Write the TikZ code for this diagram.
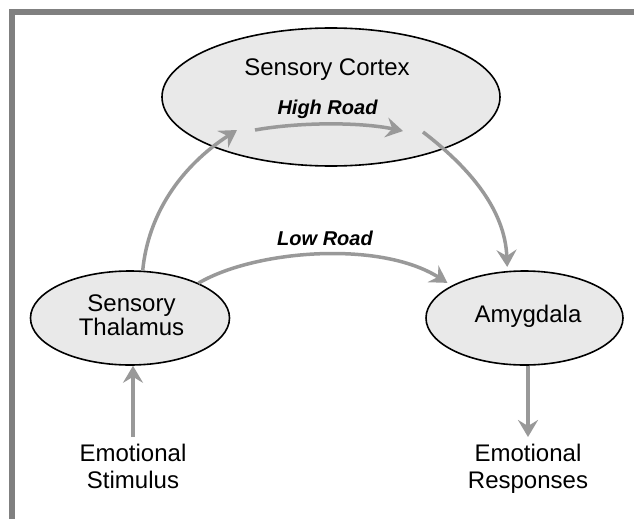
\documentclass[tikz,border=0pt]{standalone}
\usepackage{fontspec}
\setmainfont{Liberation Sans}
\usetikzlibrary{shapes.geometric,arrows.meta,calc}
\definecolor{framegray}{HTML}{808080}
\definecolor{linkgray}{HTML}{999999}
\definecolor{bubble}{HTML}{E9E9E9}
\begin{document}
\begin{tikzpicture}[x=1pt,y=-1pt,
  region/.style={ellipse, draw=black, line width=1.6pt, fill=bubble, inner sep=0pt},
  caption/.style={inner sep=0pt, font=\fontsize{24}{27}\selectfont, align=center},
  roadlabel/.style={inner sep=0pt, font=\fontsize{20}{24}\selectfont\bfseries\itshape},
  link/.style={draw=linkgray, line width=3.5pt, -{Stealth[length=17pt,width=20pt,inset=6pt]}},
]
% page and frame
\fill[white] (0,0) rectangle (634,519);
\useasboundingbox (0,0) rectangle (634,519);
\draw[framegray, line width=6pt, line join=miter] (634,12) -- (12,12) -- (12,519);

% brain regions
\node[region, minimum width=338pt, minimum height=138pt] (cortex) at (331,97) {};
\node[region, minimum width=199pt, minimum height=94pt] (thal) at (130,318) {};
\node[region, minimum width=197pt, minimum height=94pt] (amyg) at (524.5,318) {};

% texts
\node[caption, anchor=base] (cortextext) at (327,75) {Sensory Cortex};
\node[caption, anchor=north, font=\fontsize{24}{24.5}\selectfont] (thaltext) at (131.5,294.5) {Sensory\\Thalamus};
\node[caption, anchor=base] (amygtext) at (528,322.7) {Amygdala};
\node[caption, anchor=north] (stim) at (133,443.5) {Emotional\\Stimulus};
\node[caption, anchor=north] (resp) at (528,443.5) {Emotional\\Responses};
\node[roadlabel, anchor=base] (high) at (327.5,114) {High Road};
\node[roadlabel, anchor=base] (low) at (325,245) {Low Road};

% free ends of the high road inside the cortex
\coordinate (hrin) at (237,130);
\coordinate (hrstart) at (255,130);
\coordinate (hrend) at (403,131);
\coordinate (hrout) at (423,132);

% pathways
\draw[link] (thal.75) .. controls (148,215) and (180,167) .. (hrin);
\draw[link] (hrstart) .. controls (300,122) and (360,122) .. (hrend);
\draw[link, shorten >=4pt] (hrout) .. controls (470,168) and (505,210) .. (amyg.110);
\draw[link, shorten >=5pt] (thal.27) .. controls (255,250) and (380,240) .. (amyg.156);
\draw[link] (stim.north) ++(0,-6.5) -- (thal.south -| stim.north);
\draw[link, shorten >=6.5pt] (amyg.south -| resp.north) -- (resp.north);
\end{tikzpicture}
\end{document}
